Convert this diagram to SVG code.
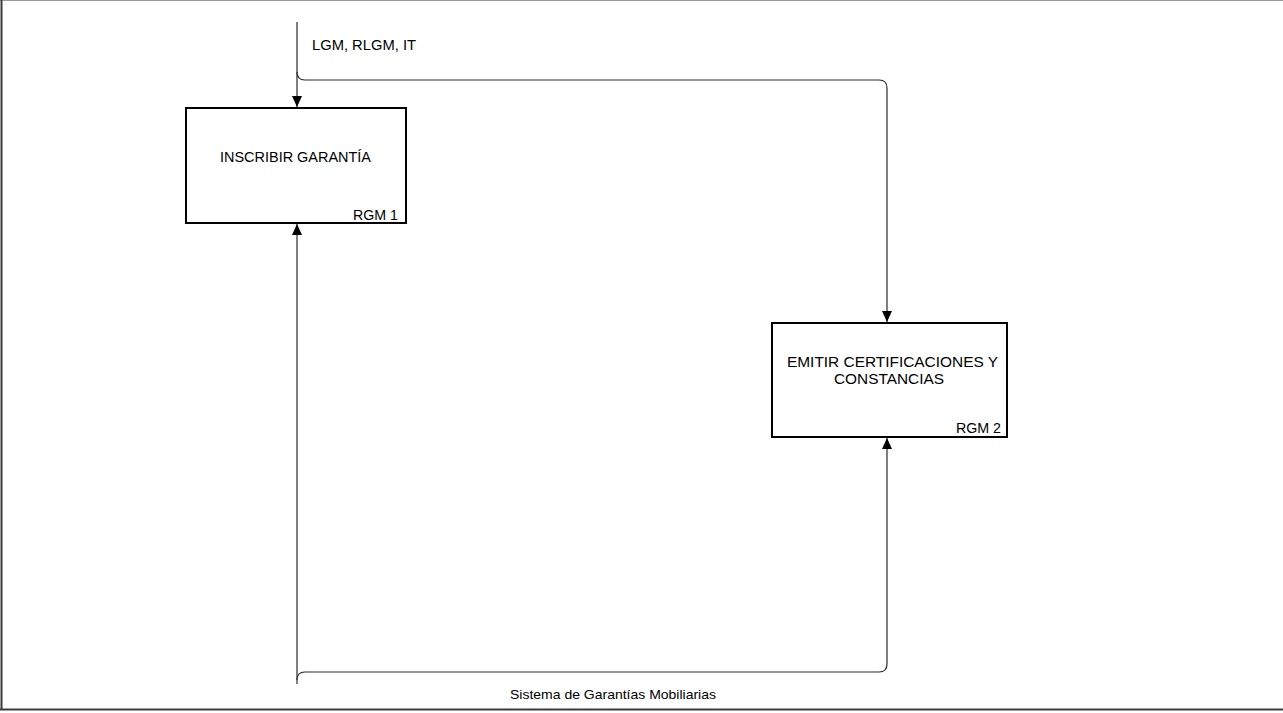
<svg xmlns="http://www.w3.org/2000/svg" width="1283" height="713" viewBox="0 0 1283 713">
  <style>
    .frame { fill: none; stroke: #3a3a3a; stroke-width: 2; }
    .box { fill: #ffffff; stroke: #000000; stroke-width: 2; }
    .wire { fill: none; stroke: #2a2a2a; stroke-width: 1.2; }
    .lbl { font-family: "Liberation Sans", Arial, sans-serif; font-size: 14px; fill: #000000; }
    .small { font-size: 13px; }
  </style>
  <defs>
    <!-- filled arrowhead, drawn along +x so orient="auto" follows the path -->
    <marker id="arrow" viewBox="0 0 11 10" refX="11" refY="5" markerWidth="11" markerHeight="10" markerUnits="userSpaceOnUse" orient="auto">
      <path d="M0,0 L11,5 L0,10 Z" fill="#000000"/>
    </marker>
  </defs>

  <rect width="1283" height="713" fill="#ffffff"/>

  <!-- page frame -->
  <g id="frame">
    <line x1="0" y1="0.5" x2="1283" y2="0.5" stroke="#9a9a9a" stroke-width="1"/>
    <line x1="1.5" y1="0" x2="1.5" y2="710" class="frame"/>
    <line x1="0" y1="709.5" x2="1283" y2="709.5" class="frame"/>
  </g>

  <!-- connectors -->
  <g id="connectors">
    <!-- control input from the top -->
    <path class="wire" d="M297,22 V107" marker-end="url(#arrow)"/>
    <path class="wire" d="M297,72 Q297,80 305,80 H879 Q887,80 887,88 V322" marker-end="url(#arrow)"/>
    <!-- mechanism input from the bottom -->
    <path class="wire" d="M297,684 V224" marker-end="url(#arrow)"/>
    <path class="wire" d="M297,680 Q297,672 305,672 H879 Q887,672 887,664 V438" marker-end="url(#arrow)"/>
  </g>

  <text class="lbl" x="312" y="50" textLength="104" lengthAdjust="spacingAndGlyphs">LGM, RLGM, IT</text>
  <text class="lbl small" x="510" y="699" textLength="206" lengthAdjust="spacingAndGlyphs">Sistema de Garantías Mobiliarias</text>

  <g id="rgm1">
    <rect class="box" x="186" y="108" width="220" height="115"/>
    <text class="lbl" x="220" y="162" textLength="151" lengthAdjust="spacingAndGlyphs">INSCRIBIR GARANTÍA</text>
    <text class="lbl" x="353" y="220" textLength="45" lengthAdjust="spacingAndGlyphs">RGM 1</text>
  </g>

  <g id="rgm2">
    <rect class="box" x="772" y="323" width="235" height="114"/>
    <text class="lbl" x="787" y="367" textLength="211" lengthAdjust="spacingAndGlyphs">EMITIR CERTIFICACIONES  Y</text>
    <text class="lbl" x="834" y="384" textLength="110" lengthAdjust="spacingAndGlyphs">CONSTANCIAS</text>
    <text class="lbl" x="956" y="433" textLength="45" lengthAdjust="spacingAndGlyphs">RGM 2</text>
  </g>
</svg>
